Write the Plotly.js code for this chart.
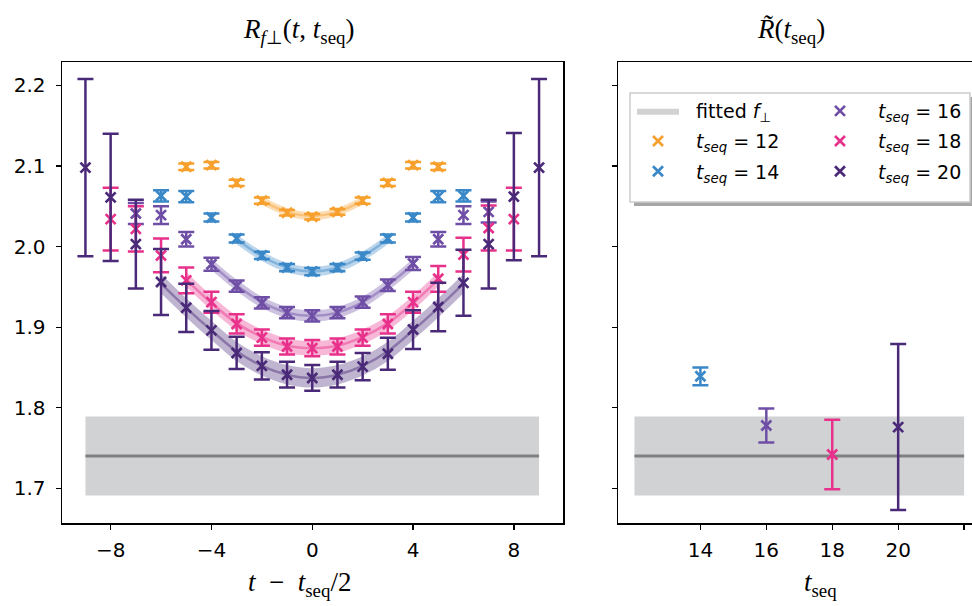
<!DOCTYPE html>
<html><head><meta charset="utf-8">
<script src="https://cdn.plot.ly/plotly-3.0.1.min.js"></script>
<style>html,body{margin:0;padding:0;background:#fff}</style>
</head><body><div id="chart" style="width:972px;height:606px"></div>
<script>
// ---------- data ----------
const seqLabels = ['12', '14', '16', '18', '20'];
const seriesColors = ['#f7a02d', '#3a88c8', '#6f4fa6', '#e8318b', '#4a2a78'];
const bandRGB = ['247,160,45', '58,136,200', '111,79,166', '232,49,139', '74,42,120'];

const x12 = [-5, -4, -3, -2, -1, 0, 1, 2, 3, 4, 5];
const y12 = [2.099, 2.101, 2.079, 2.057, 2.042, 2.037, 2.043, 2.057, 2.079, 2.101, 2.099];
const e12 = [0.004, 0.004, 0.004, 0.004, 0.0035, 0.0035, 0.0035, 0.004, 0.004, 0.004, 0.004];

const x14 = [-6, -5, -4, -3, -2, -1, 0, 1, 2, 3, 4, 5, 6];
const y14 = [2.063, 2.062, 2.036, 2.010, 1.989, 1.974, 1.969, 1.974, 1.988, 2.010, 2.036, 2.062, 2.063];
const e14 = [0.007, 0.007, 0.005, 0.005, 0.0045, 0.0045, 0.0045, 0.0045, 0.0045, 0.005, 0.005, 0.007, 0.007];

const x16 = [-7, -6, -5, -4, -3, -2, -1, 0, 1, 2, 3, 4, 5, 6, 7];
const y16 = [2.041, 2.039, 2.009, 1.978, 1.951, 1.930, 1.918, 1.914, 1.918, 1.931, 1.952, 1.979, 2.009, 2.039, 2.043];
const e16 = [0.013, 0.011, 0.009, 0.008, 0.007, 0.007, 0.007, 0.007, 0.007, 0.007, 0.007, 0.008, 0.009, 0.011, 0.013];

const x18 = [-8, -7, -6, -5, -4, -3, -2, -1, 0, 1, 2, 3, 4, 5, 6, 7, 8];
const y18 = [2.034, 2.022, 1.989, 1.958, 1.931, 1.904, 1.887, 1.876, 1.874, 1.876, 1.887, 1.904, 1.931, 1.960, 1.990, 2.023, 2.034];
const e18 = [0.039, 0.028, 0.021, 0.016, 0.013, 0.012, 0.010, 0.010, 0.010, 0.010, 0.010, 0.012, 0.013, 0.016, 0.021, 0.028, 0.039];

const x20 = [-9, -8, -7, -6, -5, -4, -3, -2, -1, 0, 1, 2, 3, 4, 5, 6, 7, 8, 9];
const y20 = [2.098, 2.061, 2.003, 1.956, 1.924, 1.896, 1.868, 1.852, 1.841, 1.837, 1.841, 1.851, 1.867, 1.897, 1.925, 1.955, 2.003, 2.062, 2.098];
const e20 = [0.110, 0.079, 0.055, 0.041, 0.030, 0.024, 0.020, 0.017, 0.016, 0.016, 0.016, 0.017, 0.020, 0.024, 0.030, 0.041, 0.055, 0.079, 0.110];

// fitted curves (central value and half-width of band)
const fx12 = [-2, -1, 0, 1, 2];
const fy12 = [2.057, 2.043, 2.038, 2.043, 2.057];
const fe12 = 0.005;
const fx14 = [-3, -2, -1, 0, 1, 2, 3];
const fy14 = [2.009, 1.988, 1.974, 1.969, 1.974, 1.988, 2.009];
const fe14 = 0.006;
const fx16 = [-4, -3, -2, -1, 0, 1, 2, 3, 4];
const fy16 = [1.978, 1.952, 1.931, 1.918, 1.914, 1.918, 1.931, 1.952, 1.978];
const fe16 = 0.007;
const fx18 = [-5, -4, -3, -2, -1, 0, 1, 2, 3, 4, 5];
const fy18 = [1.959, 1.930, 1.905, 1.888, 1.877, 1.874, 1.877, 1.888, 1.905, 1.930, 1.959];
const fe18 = 0.009;
const fx20 = [-6, -5, -4, -3, -2, -1, 0, 1, 2, 3, 4, 5, 6];
const fy20 = [1.954, 1.924, 1.896, 1.870, 1.852, 1.841, 1.837, 1.841, 1.852, 1.870, 1.896, 1.924, 1.954];
const fe20 = 0.012;

// right panel: R~(t_seq)
const rTseq = [14, 16, 18, 20];
const rVal = [1.839, 1.778, 1.742, 1.776];
const rErr = [0.011, 0.021, 0.043, 0.103];

// fitted f_perp
const fitVal = 1.740;
const fitErr = 0.049;
const fitSpanLeft = [-9, 9];
const fitSpanRight = [12, 22];

// ---------- build traces ----------
const ptsX = [x12, x14, x16, x18, x20];
const ptsY = [y12, y14, y16, y18, y20];
const ptsE = [e12, e14, e16, e18, e20];
const fitX = [fx12, fx14, fx16, fx18, fx20];
const fitY = [fy12, fy14, fy16, fy18, fy20];
const fitE = [fe12, fe14, fe16, fe18, fe20];

const traces = [];
const gray = '#d1d2d4';
const pad = '&nbsp;&nbsp;';

function grayBand(span, xa, ya, showleg) {
  traces.push({
    x: [span[0], span[1], span[1], span[0], span[0]],
    y: [fitVal - fitErr, fitVal - fitErr, fitVal + fitErr, fitVal + fitErr, fitVal - fitErr],
    xaxis: xa, yaxis: ya, mode: 'lines', fill: 'toself', fillcolor: gray,
    line: {width: 0, color: gray}, name: pad + 'fitted <i>f</i><sub>⊥</sub>',
    showlegend: showleg, legend: 'legend', legendgroup: 'g0', legendrank: 1, hoverinfo: 'skip'
  });
  traces.push({
    x: span, y: [fitVal, fitVal], xaxis: xa, yaxis: ya, mode: 'lines',
    line: {width: 3, color: '#808080'}, showlegend: false, hoverinfo: 'skip'
  });
}
grayBand(fitSpanLeft, 'x', 'y', true);
grayBand(fitSpanRight, 'x2', 'y2', false);

for (let i = 0; i < 5; i++) {
  const lo = fitY[i].map(v => v - fitE[i]);
  const hi = fitY[i].map(v => v + fitE[i]);
  traces.push({x: fitX[i], y: lo, mode: 'lines', line: {width: 0, shape: 'spline', color: 'rgba(0,0,0,0)'},
    showlegend: false, hoverinfo: 'skip', xaxis: 'x', yaxis: 'y'});
  traces.push({x: fitX[i], y: hi, mode: 'lines', fill: 'tonexty', fillcolor: 'rgba(' + bandRGB[i] + ',0.35)',
    line: {width: 0, shape: 'spline', color: 'rgba(0,0,0,0)'}, showlegend: false, hoverinfo: 'skip', xaxis: 'x', yaxis: 'y'});
  traces.push({x: fitX[i], y: fitY[i], mode: 'lines', line: {width: 2.5, shape: 'spline', color: 'rgba(' + bandRGB[i] + ',0.45)'},
    showlegend: false, hoverinfo: 'skip', xaxis: 'x', yaxis: 'y'});
}

function markerStyle(c) {
  return {symbol: 'x-thin', size: 10, color: c, line: {width: 2.7, color: c}};
}
function errStyle(arr, c) {
  return {type: 'data', array: arr, visible: true, color: c, thickness: 2.5, width: 8};
}

for (let i = 0; i < 5; i++) {
  traces.push({
    x: ptsX[i], y: ptsY[i], mode: 'markers', xaxis: 'x', yaxis: 'y',
    marker: markerStyle(seriesColors[i]), error_y: errStyle(ptsE[i], seriesColors[i]),
    name: pad + '<i>t</i><sub><i>seq</i></sub> = ' + seqLabels[i],
    legend: i < 2 ? 'legend' : 'legend2', legendgroup: 'g' + (i + 1), legendrank: i + 2, showlegend: true
  });
}
for (let j = 0; j < rTseq.length; j++) {
  const c = seriesColors[j + 1];
  traces.push({
    x: [rTseq[j]], y: [rVal[j]], mode: 'markers', xaxis: 'x2', yaxis: 'y2',
    marker: markerStyle(c), error_y: errStyle([rErr[j]], c), showlegend: false
  });
}

// ---------- layout ----------
const W = 972, H = 606, L = 62, R = 0, T = 62, B = 83;
const pw = W - L - R, ph = H - T - B;
const px = v => (v - L) / pw;
const py = v => (H - B - v) / ph;

const axBase = {
  showline: true, linecolor: '#000', linewidth: 1.5, ticks: 'outside', ticklen: 5,
  tickwidth: 1.3, tickcolor: '#000', showgrid: false, zeroline: false,
  tickfont: {family: 'DejaVu Sans', size: 20, color: '#000'}, ticklabelstandoff: 6
};
const yTicks = [1.7, 1.8, 1.9, 2.0, 2.1, 2.2];
const yRange = [1.657, 2.229];

const titleFont = {family: 'Liberation Serif', size: 27, color: '#000'};
const legFont = {family: 'DejaVu Sans', size: 19, color: '#000'};
const legBase = {xanchor: 'left', yanchor: 'top', bgcolor: 'rgba(0,0,0,0)', borderwidth: 0,
  font: legFont, itemwidth: 42, tracegroupgap: 2.5, traceorder: 'grouped'};

const layout = {
  width: W, height: H,
  margin: {l: L, r: R, t: T, b: B, pad: 0},
  paper_bgcolor: '#fff', plot_bgcolor: '#fff',
  xaxis: Object.assign({}, axBase, {domain: [0, px(563)], range: [-9.93, 9.95], mirror: true,
    tickvals: [-8, -4, 0, 4, 8], ticktext: ['−8', '−4', '0', '4', '8'], anchor: 'y', ticklabelstandoff: 3}),
  yaxis: Object.assign({}, axBase, {domain: [0, 1], range: yRange, mirror: true,
    tickvals: yTicks, ticktext: ['1.7', '1.8', '1.9', '2.0', '2.1', '2.2'], anchor: 'x'}),
  xaxis2: Object.assign({}, axBase, {domain: [px(618), 1], range: [11.5, 22.24], mirror: true,
    tickvals: [14, 16, 18, 20, 22], ticktext: ['14', '16', '18', '20', ''], anchor: 'y2', ticklabelstandoff: 3}),
  yaxis2: Object.assign({}, axBase, {domain: [0, 1], range: yRange, mirror: false,
    tickvals: yTicks, showticklabels: false, anchor: 'x2'}),
  showlegend: true,
  legend: Object.assign({}, legBase, {x: px(632), y: py(92)}),
  legend2: Object.assign({}, legBase, {x: px(814), y: py(92)}),
  shapes: [
    {type: 'rect', xref: 'paper', yref: 'paper', x0: px(634), x1: px(978), y0: py(97), y1: py(206),
      fillcolor: '#a6a6a6', line: {width: 0}, layer: 'above'},
    {type: 'rect', xref: 'paper', yref: 'paper', x0: px(630), x1: px(970), y0: py(93), y1: py(202),
      fillcolor: '#ffffff', line: {width: 1.5, color: '#cccccc'}, layer: 'above'}
  ],
  annotations: [
    {text: '<i>R</i><sub><i>f</i>⊥</sub>(<i>t</i>, <i>t</i><sub>seq</sub>)', xref: 'paper', yref: 'paper',
      x: px(298), y: py(31), xanchor: 'center', yanchor: 'middle', showarrow: false, font: titleFont},
    {text: '<i>R̃</i>(<i>t</i><sub>seq</sub>)', xref: 'paper', yref: 'paper',
      x: px(791), y: py(31), xanchor: 'center', yanchor: 'middle', showarrow: false, font: titleFont},
    {text: '<i>t</i>&nbsp; −&nbsp; <i>t</i><sub>seq</sub>/2', xref: 'paper', yref: 'paper',
      x: px(299), y: py(584), xanchor: 'center', yanchor: 'middle', showarrow: false, font: titleFont},
    {text: '<i>t</i><sub>seq</sub>', xref: 'paper', yref: 'paper',
      x: px(820), y: py(584), xanchor: 'center', yanchor: 'middle', showarrow: false, font: titleFont}
  ]
};

Plotly.newPlot('chart', traces, layout, {displayModeBar: false, staticPlot: true});
</script>
</body></html>
